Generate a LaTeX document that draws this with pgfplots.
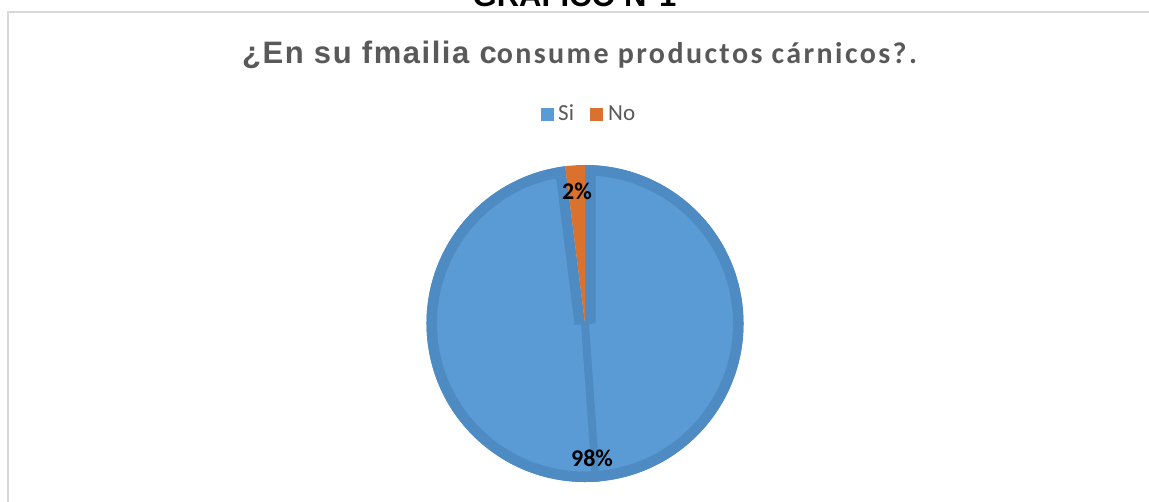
\documentclass[border=0pt]{standalone}
\usepackage{fontspec}
\setmainfont{Carlito}
\newfontfamily\arialfont[LetterSpace=5]{Liberation Sans}
\newfontfamily\arialplain{Liberation Sans}
\newfontfamily\calfont[LetterSpace=8]{Carlito}
\usepackage{pgfplots}
\usepackage{pgfplotstable}
\pgfplotsset{compat=1.18}
\definecolor{siblue}{HTML}{5B9BD5}
\definecolor{ringblue}{HTML}{4F8BC3}
\definecolor{noorange}{HTML}{D8722E}
\definecolor{titlegray}{HTML}{595959}
\definecolor{bordergray}{HTML}{D9D9D9}

\pgfplotstableread{
label value
Si 98
No 2
}\piedata

\begin{document}
\begin{tikzpicture}
\pgfplotstablegetelem{0}{value}\of\piedata \let\valSi\pgfplotsretval
\pgfplotstablegetelem{1}{value}\of\piedata \let\valNo\pgfplotsretval
\pgfmathsetmacro\angNo{360*\valNo/(\valSi+\valNo)}
\pgfmathsetmacro\angSiStart{90+\angNo}
\useasboundingbox (0,0) rectangle (1149pt,501pt);
\clip (0,0) rectangle (1149pt,501pt);
\begin{axis}[
  at={(0,0)}, anchor=south west,
  width=1149pt, height=501pt, scale only axis,
  xmin=0, xmax=1149, ymin=0, ymax=501,
  hide axis, clip=false]
% chart border
\draw[bordergray, line width=2pt] (axis cs:8,-20) -- (axis cs:8,489) -- (axis cs:1170,489);
% cut-off heading
\node[anchor=base, font=\arialplain\bfseries\fontsize{31}{36}\selectfont, text=black, inner sep=0pt]
  at (axis cs:574.5,494) {GRÁFICO N°1};
% chart title
\node[anchor=base west, inner sep=0pt, text=titlegray] at (axis cs:242,437)
  {{\arialfont\bfseries\fontsize{31}{36}\selectfont ¿En su fmailia c}{\calfont\bfseries\fontsize{30}{36}\selectfont onsume productos cárnicos?.}};
% legend
\fill[siblue] (axis cs:541,380) rectangle (axis cs:554,393);
\node[anchor=base west, inner sep=0pt, font=\fontsize{23}{27}\selectfont, text=titlegray] at (axis cs:558,380) {Si};
\fill[noorange] (axis cs:590,380) rectangle (axis cs:603,393);
\node[anchor=base west, inner sep=0pt, font=\fontsize{23}{27}\selectfont, text=titlegray] at (axis cs:608,380) {No};
% Si slice
\fill[siblue] (axis cs:585,177.5) -- ++(\angSiStart:158.5pt) arc[start angle=\angSiStart, end angle=450, radius=158.5pt] -- cycle;
\begin{scope}
  \clip (axis cs:585,177.5) -- ++(\angSiStart:158.5pt) arc[start angle=\angSiStart, end angle=450, radius=158.5pt] -- cycle;
  \draw[ringblue, line width=21pt, line join=miter] (axis cs:585,177.5) -- ++(\angSiStart:158.5pt) arc[start angle=\angSiStart, end angle=450, radius=158.5pt] -- cycle;
  \draw[ringblue, line width=8pt] (axis cs:585,177.5) -- ++(274:170pt);
\end{scope}
% No slice
\fill[noorange] (axis cs:585,177.5) -- ++(90:158.5pt) arc[start angle=90, end angle=\angSiStart, radius=158.5pt] -- cycle;
% data labels
\node[font=\bfseries\fontsize{24}{28}\selectfont, inner sep=0pt] at (axis cs:577,310) {\pgfmathprintnumber[assume math mode=true]{\valNo}\%};
\node[font=\bfseries\fontsize{24}{28}\selectfont, inner sep=0pt] at (axis cs:592,43) {\pgfmathprintnumber[assume math mode=true]{\valSi}\%};
\end{axis}
\end{tikzpicture}
\end{document}
